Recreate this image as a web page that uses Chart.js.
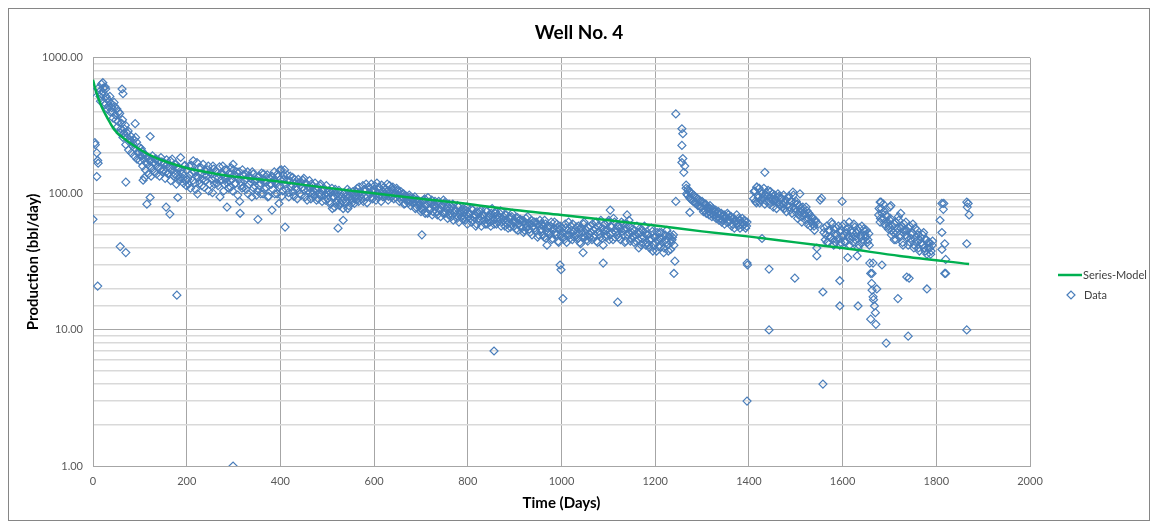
<!DOCTYPE html>
<html>
<head>
<meta charset="utf-8">
<title>Well No. 4</title>
<script src="https://cdn.jsdelivr.net/npm/chart.js@4.4.1/dist/chart.umd.min.js"></script>
<style>
  html, body { margin: 0; padding: 0; background: #fff; }
  #wrap { width: 1158px; height: 525px; }
</style>
</head>
<body>
<div id="wrap"><canvas id="wellChart" width="1158" height="525"></canvas></div>
<script>
/* ---- decline model (days, bbl/day) ---- */
const modelDays  = [0, 4, 10, 18, 26, 36, 47, 60, 73, 100, 125, 150, 200, 250, 300, 384, 470, 600, 700, 805, 900, 1000, 1100, 1200, 1300, 1402, 1500, 1600, 1722, 1870];
const modelRates = [690, 606, 520, 440, 387, 335, 292, 265, 245, 212, 190, 175, 155, 143, 134, 125, 114, 101, 92, 84, 76, 70, 64, 58.5, 53, 48.5, 44, 40, 35, 30.5];

/* ---- daily production, two interleaved readings every 3 days per period ---- */
const STEP = 3;

const earlyStart = 12;
const earlyRates = [600, 520, 640, 560, 470, 590, 500, 440, 520, 460, 400, 470, 380, 420, 340, 390, 300, 350, 280, 320,
  260, 290, 240, 265, 225, 250, 215, 240, 200, 220, 190, 205, 180, 195, 168, 185, 160, 178, 155, 170,
  165, 180, 158, 175, 152, 172, 150, 168, 145, 165, 142, 175, 148, 160, 140, 165, 135, 155, 132, 150,
  130, 160, 125];
const earlyFillStart = 13;
const earlyFill = [560, 480, 540, 600, 450, 520, 420, 480, 400, 430,
  360, 440, 350, 310, 400, 280, 330, 260, 300, 230,
  280, 210, 250, 200, 235, 190, 260, 180, 205, 175,
  215, 160, 195, 150, 185, 140, 175, 135, 190, 145,
  180, 140, 172, 135, 185, 145, 165, 130, 178, 140,
  155, 125, 180, 135, 165, 118, 155, 125, 185, 140,
  120, 162, 115];

const midStart = 201;
const midRates = [150, 118, 138, 162, 125, 145, 108, 170, 132, 120,
  155, 128, 112, 148, 135, 160, 118, 140, 102, 152,
  130, 145, 115, 158, 125, 138, 105, 150, 122, 132,
  142, 112, 128, 150, 118, 135, 98, 145, 122, 110,
  138, 125, 108, 145, 118, 130, 95, 140, 115, 128,
  105, 135, 120, 142, 100, 125, 112, 138, 96, 130,
  118, 108, 145, 122, 100, 135, 115, 150, 105, 128,
  118, 138, 102, 125, 112, 132, 96, 120, 108, 128,
  100, 122, 112, 130, 95, 118, 106, 125, 92, 115,
  104, 120, 90, 112, 100, 118, 88, 108, 98, 115,
  92, 105, 84, 110, 96, 80, 100, 90, 106, 86,
  95, 78, 102, 88, 108, 82, 96, 90, 104, 85,
  98, 110, 88, 104, 92, 115, 96, 106, 86, 112,
  100, 118, 92, 108, 98, 120, 95, 110, 88, 105,
  112, 96, 104, 90, 115, 100, 108, 92, 102, 110,
  98, 88, 104, 94, 100, 85, 96, 90, 98, 82,
  92, 86, 95, 80, 88, 84, 78];
const midFillStart = 202;
const midFill = [128, 160, 110, 142, 175, 120, 135, 100, 155, 140,
  115, 165, 138, 125, 150, 105, 145, 128, 160, 118,
  148, 120, 132, 95, 142, 160, 118, 128, 150, 110,
  125, 155, 105, 138, 120, 145, 130, 88, 115, 150,
  112, 140, 130, 100, 135, 122, 145, 110, 125, 98,
  132, 115, 100, 128, 140, 108, 122, 95, 130, 118,
  135, 125, 100, 118, 140, 112, 128, 96, 138, 150,
  108, 125, 95, 135, 118, 104, 128, 112, 92, 120,
  115, 98, 126, 108, 120, 90, 112, 102, 118, 100,
  96, 110, 106, 92, 115, 98, 104, 110, 90, 102,
  98, 88, 102, 78, 94, 108, 86, 96, 82, 100,
  88, 100, 84, 96, 78, 104, 92, 86, 98, 92,
  104, 92, 112, 96, 100, 88, 108, 118, 95, 102,
  110, 94, 104, 115, 90, 102, 112, 98, 116, 95,
  100, 108, 118, 96, 104, 95, 112, 100, 94, 106,
  104, 94, 90, 100, 84, 96, 90, 86, 94, 88,
  86, 92, 78, 90, 82, 88, 74];

const lateStart = 702;
const lateRates = [88, 76, 92, 82, 72, 86, 78, 90, 74, 84,
  80, 70, 88, 76, 82, 72, 86, 74, 80, 70,
  78, 68, 84, 72, 76, 66, 80, 70, 75, 65,
  74, 64, 80, 68, 72, 62, 76, 67, 70, 60,
  72, 63, 76, 66, 70, 60, 74, 64, 68, 58,
  78, 64, 72, 60, 70, 66, 75, 62, 68, 58,
  70, 60, 66, 57, 68, 62, 64, 55, 67, 60,
  65, 56, 62, 54, 66, 58, 61, 52, 64, 57,
  62, 53, 60, 50, 64, 55, 58, 48, 60, 52,
  58, 50, 62, 47, 56, 52, 60, 45, 55, 50,
  56, 48, 60, 44, 54, 50, 58, 46, 53, 49,
  57, 47, 55, 43, 52, 60, 48, 54, 45, 51,
  58, 46, 54, 50, 62, 44, 53, 48, 56, 42,
  60, 48, 55, 64, 50, 57, 46, 62, 52, 58,
  48, 56, 62, 50, 54, 45, 60, 52, 57, 47,
  55, 44, 50, 58, 46, 52, 42, 54, 48, 51,
  44, 50, 40, 47, 53, 42, 48, 38, 46, 52,
  41, 47, 37, 50, 44, 42, 48, 39, 46, 50];
const lateFillStart = 703;
const lateFill = [80, 90, 72, 84, 94, 76, 86, 70, 82, 88,
  74, 84, 78, 68, 82, 90, 72, 78, 66, 84,
  72, 80, 64, 76, 70, 82, 62, 74, 68, 78,
  68, 76, 60, 72, 66, 78, 64, 70, 58, 74,
  66, 74, 58, 70, 64, 76, 60, 68, 62, 72,
  68, 60, 74, 66, 62, 72, 58, 66, 64, 70,
  64, 56, 68, 60, 72, 58, 62, 66, 54, 64,
  58, 64, 52, 60, 56, 68, 55, 60, 50, 62,
  56, 62, 48, 58, 54, 60, 50, 64, 47, 56,
  52, 58, 46, 54, 62, 50, 56, 44, 58, 48,
  52, 46, 56, 50, 62, 47, 54, 60, 48, 55,
  50, 58, 44, 56, 48, 62, 51, 46, 57, 48,
  52, 60, 48, 56, 45, 58, 50, 64, 47, 55,
  54, 50, 62, 46, 58, 52, 66, 48, 55, 50,
  58, 46, 53, 60, 44, 56, 50, 64, 45, 52,
  48, 54, 45, 52, 40, 56, 47, 44, 58, 42,
  50, 42, 46, 56, 38, 48, 44, 52, 41, 47,
  52, 44, 40, 46, 54, 38, 50, 44, 48, 42];

const reboundStart = 1266;
const reboundRates = [110, 98, 104, 92, 100, 88, 96, 85, 92, 82,
  88, 80, 86, 76, 84, 78, 74, 82, 72, 78,
  70, 76, 68, 74, 66, 72, 64, 70, 68, 62,
  70, 64, 68, 60, 66, 62, 70, 58, 64, 60,
  66, 60, 63, 58];
const reboundFillStart = 1267;
const reboundFill = [100, 108, 94, 102, 90, 98, 86, 94, 82, 90,
  80, 88, 74, 84, 72, 80, 70, 78, 68, 74,
  74, 66, 72, 64, 70, 62, 68, 60, 66, 72,
  62, 68, 58, 66, 56, 64, 60, 66, 56, 62,
  58, 64, 56, 62];

const restartStart = 1410;
const restartRates = [92, 105, 86, 98, 110, 90, 100, 95, 84, 102,
  96, 88, 104, 92, 80, 98, 90, 86, 96, 82,
  92, 84, 78, 90, 82, 96, 76, 88, 80, 86,
  74, 84, 70, 78, 68, 80, 72, 64, 75, 66,
  70, 62, 66, 58, 64];
const restartFillStart = 1411;
const restartFill = [104, 88, 112, 94, 86, 104, 92, 110, 98, 88,
  106, 84, 94, 100, 88, 92, 78, 100, 84, 94,
  80, 98, 86, 74, 94, 80, 88, 72, 98, 78,
  88, 66, 82, 74, 62, 76, 70, 80, 60, 72,
  58, 68, 60, 54, 62];

const plateauStart = 1560;
const plateauRates = [52, 46, 58, 44, 54, 48, 60, 42, 50, 56,
  47, 53, 44, 58, 50, 45, 55, 48, 62, 46,
  52, 44, 57, 49, 54, 42, 50, 58, 46, 53,
  48, 44, 51];
const plateauFillStart = 1561;
const plateauFill = [56, 50, 44, 54, 48, 62, 46, 55, 44, 50,
  58, 42, 54, 48, 60, 44, 52, 56, 42, 54,
  48, 60, 46, 52, 40, 56, 48, 44, 55, 50,
  54, 46, 42];

const tailStart = 1677;
const tailRates = [70, 62, 78, 66, 74, 58, 68, 55, 64, 50,
  58, 46, 62, 52, 68, 48, 56, 44, 60, 50,
  54, 42, 58, 47, 52, 40, 56, 45, 50, 38,
  48, 42, 52, 38, 46, 40, 44, 36, 42];
const tailFillStart = 1678;
const tailFill = [78, 66, 72, 84, 60, 70, 62, 58, 66, 54,
  52, 60, 46, 56, 64, 50, 58, 42, 54, 62,
  48, 56, 44, 50, 60, 42, 48, 54, 40, 46,
  44, 50, 40, 46, 36, 44, 40, 38, 45];

/* ---- scattered single readings [day, bbl/day] ---- */
const spotReadings = [
  [0, 560], [0, 65], [4, 238], [5, 230], [8, 200], [10, 176], [11, 168], [8, 134], [10, 21],
  [21, 656], [26, 610], [62, 590], [64, 545], [58, 41], [70, 37], [70, 122], [90, 328], [122, 264],
  [107, 126], [110, 132], [115, 84], [122, 94], [156, 80], [164, 71], [179, 18], [181, 94],
  [286, 80], [299, 165], [299, 1.0], [314, 72], [352, 65], [382, 76], [397, 85], [399, 149], [410, 57],
  [523, 56], [534, 64], [702, 50], [856, 7], [969, 42], [997, 30], [999, 27.7], [1003, 17], [1046, 37],
  [1089, 31], [1104, 76], [1120, 16], [1140, 70], [1240, 26], [1242, 32], [1244, 88],
  [1244, 387], [1257, 301], [1259, 277], [1257, 227], [1259, 182], [1257, 170], [1263, 160], [1261, 144],
  [1266, 116], [1274, 73], [1396, 31], [1397, 30], [1396, 3.0],
  [1417, 112], [1428, 47], [1434, 144], [1443, 28], [1443, 10], [1494, 103], [1498, 24], [1509, 100],
  [1545, 40], [1545, 35], [1548, 60], [1552, 90], [1555, 93], [1558, 19], [1558, 4.0],
  [1594, 23], [1594, 15], [1599, 88], [1611, 34], [1631, 35], [1633, 15],
  [1658, 31], [1660, 26], [1662, 22], [1663, 19.6], [1665, 17.5], [1666, 16.7], [1668, 15], [1670, 13.4],
  [1671, 11], [1673, 20], [1665, 31], [1663, 26], [1660, 12],
  [1680, 87], [1682, 87], [1684, 30], [1693, 8], [1701, 80], [1703, 82], [1718, 17], [1724, 72],
  [1737, 24.5], [1740, 9], [1742, 24], [1780, 20],
  [1808, 64], [1812, 85], [1815, 77], [1816, 85], [1812, 52], [1818, 43], [1812, 39], [1820, 33],
  [1820, 26], [1818, 26],
  [1865, 87], [1866, 80], [1870, 70], [1865, 43], [1865, 10], [1868, 85]
];

/* ---- axis ticks ---- */
const dayMax = 2000, dayStep = 200;
const rateMin = 1, rateMax = 1000;

const MARK = '#4a7ebb';
const MODEL = '#00b050';
const FONT = 'Lato, "Open Sans", "DejaVu Sans", sans-serif';

function periodPoints(start, rates) {
  return rates.map((r, i) => ({ x: start + i * STEP, y: r }));
}

const dataPoints = [
  ...periodPoints(earlyStart, earlyRates), ...periodPoints(earlyFillStart, earlyFill),
  ...periodPoints(midStart, midRates), ...periodPoints(midFillStart, midFill),
  ...periodPoints(lateStart, lateRates), ...periodPoints(lateFillStart, lateFill),
  ...periodPoints(reboundStart, reboundRates), ...periodPoints(reboundFillStart, reboundFill),
  ...periodPoints(restartStart, restartRates), ...periodPoints(restartFillStart, restartFill),
  ...periodPoints(plateauStart, plateauRates), ...periodPoints(plateauFillStart, plateauFill),
  ...periodPoints(tailStart, tailRates), ...periodPoints(tailFillStart, tailFill),
  ...spotReadings.map(([d, r]) => ({ x: d, y: r }))
];
const modelPoints = modelDays.map((d, i) => ({ x: d, y: modelRates[i] }));

const isDecade = v => Math.abs(Math.log10(v) - Math.round(Math.log10(v))) < 1e-9;

/* outer frame + legend on the right */
const frameAndKey = {
  id: 'frameAndKey',
  beforeDraw(c) {
    const g = c.ctx;
    g.save();
    g.fillStyle = '#fff';
    g.fillRect(0, 0, c.width, c.height);
    g.strokeStyle = '#868686';
    g.lineWidth = 1;
    g.strokeRect(8.5, 8.5, 1141, 512);
    g.restore();
  },
  afterDraw(c) {
    const g = c.ctx;
    const x0 = c.chartArea.right + 28;
    g.save();
    g.strokeStyle = MODEL;
    g.lineWidth = 2.5;
    g.beginPath();
    g.moveTo(x0, 275);
    g.lineTo(x0 + 24, 275);
    g.stroke();

    g.strokeStyle = MARK;
    g.lineWidth = 1.2;
    g.beginPath();
    g.moveTo(x0 + 9, 295);
    g.lineTo(x0 + 13, 291);
    g.lineTo(x0 + 17, 295);
    g.lineTo(x0 + 13, 299);
    g.closePath();
    g.stroke();

    g.fillStyle = '#404040';
    g.font = '11px ' + FONT;
    g.textBaseline = 'middle';
    g.fillText('Series-Model', x0 + 25, 275);
    g.fillText('Data', x0 + 26, 295);
    g.restore();
  }
};

new Chart(document.getElementById('wellChart'), {
  type: 'scatter',
  data: {
    datasets: [
      {
        label: 'Series-Model',
        data: modelPoints,
        showLine: true,
        borderColor: MODEL,
        borderWidth: 2.5,
        pointRadius: 0,
        cubicInterpolationMode: 'monotone',
        order: 0
      },
      {
        label: 'Data',
        data: dataPoints,
        pointStyle: 'rectRot',
        pointRadius: 4,
        pointBorderWidth: 1.2,
        pointBorderColor: MARK,
        pointBackgroundColor: 'rgba(0,0,0,0)',
        order: 1
      }
    ]
  },
  options: {
    responsive: false,
    animation: false,
    layout: { padding: { left: 8, right: 8, top: 0, bottom: 0 } },
    plugins: {
      legend: { display: false },
      tooltip: { enabled: false },
      title: {
        display: true,
        text: 'Well No. 4',
        color: '#000',
        font: { family: FONT, size: 19, weight: 'bold' },
        padding: { top: 21, bottom: 14 }
      }
    },
    scales: {
      x: {
        type: 'linear',
        min: 0,
        max: dayMax,
        ticks: {
          stepSize: dayStep,
          color: '#595959',
          font: { family: FONT, size: 11 },
          padding: 9,
          maxRotation: 0,
          callback: v => String(v)
        },
        grid: { color: '#a6a6a6', lineWidth: 1, drawTicks: false },
        border: { color: '#a6a6a6' },
        title: {
          display: true,
          text: 'Time (Days)',
          color: '#000',
          font: { family: FONT, size: 15, weight: 'bold' },
          padding: { top: 0, bottom: 13 }
        },
        afterFit(s) { s.height = 59; }
      },
      y: {
        type: 'logarithmic',
        min: rateMin,
        max: rateMax,
        ticks: {
          autoSkip: false,
          color: '#595959',
          font: { family: FONT, size: 11 },
          padding: 10,
          callback: v => isDecade(v) ? Number(v).toFixed(2) : ''
        },
        grid: {
          drawTicks: false,
          color: c => isDecade(c.tick.value) ? '#a6a6a6' : '#d9d9d9',
          lineWidth: c => isDecade(c.tick.value) ? 1 : 1.5
        },
        border: { color: '#a6a6a6' },
        title: {
          display: true,
          text: 'Production (bbl/day)',
          color: '#000',
          font: { family: FONT, size: 15, weight: 'bold' },
          padding: { top: 16, bottom: 0 }
        },
        afterFit(s) { s.width = 85; }
      },
      keySpace: {
        type: 'linear',
        position: 'right',
        display: true,
        grid: { display: false, drawOnChartArea: false, drawTicks: false },
        ticks: { display: false },
        border: { display: false },
        afterFit(s) { s.width = 120; }
      }
    }
  },
  plugins: [frameAndKey]
});
</script>
</body>
</html>
